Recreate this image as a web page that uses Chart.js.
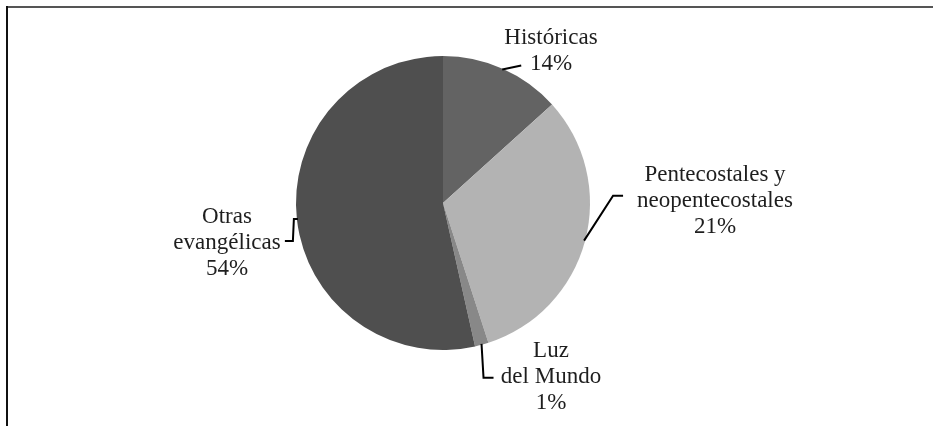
<!DOCTYPE html>
<html>
<head>
<meta charset="utf-8">
<script src="https://cdn.jsdelivr.net/npm/chart.js@4/dist/chart.umd.min.js"></script>
<style>
  body { margin: 0; background: #fff; }
  canvas { display: block; }
</style>
</head>
<body>
<canvas id="myChart" width="933" height="426"></canvas>
<script>
const categories = ["Históricas", "Pentecostales y neopentecostales", "Luz del Mundo", "Otras evangélicas"];
const shares = [13.3, 31.7, 1.5, 53.5];
const shareLabels = ["14%", "21%", "1%", "54%"];
const labelLines = [["Históricas"], ["Pentecostales y", "neopentecostales"], ["Luz", "del Mundo"], ["Otras", "evangélicas"]];
const sliceColors = ["#636363", "#b3b3b3", "#888888", "#4f4f4f"];

// where each label sits and how its leader line bends (offsets from the slice edge)
const labelStyle = [
  { x: 551, y: 44, path: [[19, -4]] },
  { x: 715, y: 181, path: [[29, -45], [39, -45]] },
  { x: 551, y: 357, path: [[2, 34], [12, 34]] },
  { x: 227, y: 223, path: [[-4, 0], [-5, 22], [-13, 22]] },
];

const frame = {
  id: "frame",
  beforeDraw(chart) {
    const c = chart.ctx;
    c.save();
    c.fillStyle = "#fff";
    c.fillRect(0, 0, chart.width, chart.height);
    c.lineWidth = 2;
    c.strokeStyle = "#555";
    c.beginPath();
    c.moveTo(6, 7);
    c.lineTo(chart.width, 7);
    c.stroke();
    c.strokeStyle = "#111";
    c.beginPath();
    c.moveTo(7, 6);
    c.lineTo(7, chart.height);
    c.stroke();
    c.restore();
  },
};

const calloutLabels = {
  id: "calloutLabels",
  afterDraw(chart) {
    const c = chart.ctx;
    const arcs = chart.getDatasetMeta(0).data;
    c.save();
    arcs.forEach((arc, i) => {
      const p = arc.getProps(["x", "y", "startAngle", "endAngle", "outerRadius"], true);
      const mid = (p.startAngle + p.endAngle) / 2;
      const sx = p.x + Math.cos(mid) * (p.outerRadius - 1);
      const sy = p.y + Math.sin(mid) * (p.outerRadius - 1);
      const st = labelStyle[i];
      c.strokeStyle = "#000";
      c.lineWidth = 2;
      c.beginPath();
      c.moveTo(sx, sy);
      st.path.forEach(([dx, dy]) => c.lineTo(sx + dx, sy + dy));
      c.stroke();

      c.fillStyle = "#1e1e1e";
      c.font = "23px 'Liberation Serif', 'DejaVu Serif', serif";
      c.textAlign = "center";
      c.textBaseline = "alphabetic";
      const lines = labelLines[i].concat([shareLabels[i]]);
      lines.forEach((t, k) => c.fillText(t, st.x, st.y + k * 26));
    });
    c.restore();
  },
};

new Chart(document.getElementById("myChart").getContext("2d"), {
  type: "pie",
  data: {
    labels: categories,
    datasets: [
      {
        data: shares,
        backgroundColor: sliceColors,
        borderWidth: 0,
      },
    ],
  },
  options: {
    responsive: false,
    animation: false,
    layout: {
      padding: { left: 296, right: 343, top: 56, bottom: 76 },
    },
    plugins: {
      legend: { display: false },
      tooltip: { enabled: false },
    },
  },
  plugins: [frame, calloutLabels],
});
</script>
</body>
</html>
